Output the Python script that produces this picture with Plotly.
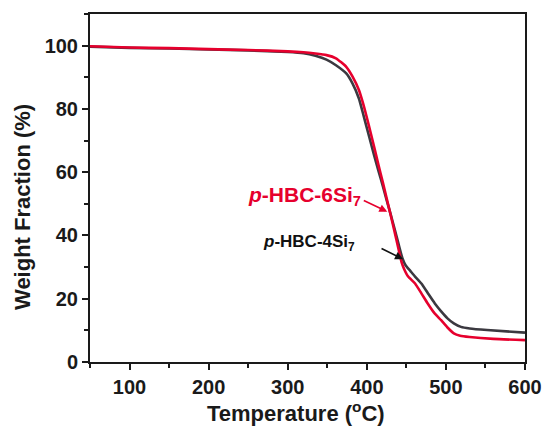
import plotly.graph_objects as go

# TGA curves: temperature (°C) vs. weight fraction (%)
temp_4si7 = [50, 100, 150, 200, 250, 300, 320, 335, 349, 361, 374, 382, 390, 396, 403, 409,
             415, 420, 425, 430, 435, 440, 445, 449, 455, 461, 469, 477, 486, 494, 502, 510,
             519, 530, 552, 600]
wt_4si7 = [99.7, 99.3, 99.1, 98.8, 98.5, 98.0, 97.6, 96.8, 95.6, 93.8, 91.2, 88.0, 83.3, 77.8, 71.2, 65.5,
           60.2, 55.8, 51.2, 46.8, 42.2, 37.4, 32.8, 30.6, 28.8, 27.0, 24.8, 21.8, 18.5, 16.0, 13.8, 12.2,
           11.1, 10.6, 10.1, 9.3]

temp_6si7 = [50, 100, 150, 200, 250, 300, 320, 335, 349, 361, 374, 382, 390, 395, 400, 405,
             410, 415, 420, 425, 430, 435, 440, 444, 447, 452, 461, 469, 477, 485, 494, 502,
             510, 518, 530, 560, 600]
wt_6si7 = [99.8, 99.4, 99.2, 98.9, 98.6, 98.2, 97.9, 97.5, 97.0, 96.0, 93.3, 90.2, 86.0, 82.0, 77.3, 72.3,
           67.2, 62.0, 57.0, 51.8, 46.6, 41.3, 35.8, 31.5, 29.5, 27.1, 24.8, 21.7, 18.5, 15.6, 13.2, 10.9,
           9.05, 8.3, 7.9, 7.3, 6.9]

x_ticks = [100, 200, 300, 400, 500, 600]
y_ticks = [0, 20, 40, 60, 80, 100]

RED = "#e6002d"
DARK = "#3b3940"
AXIS = "#1a1a1a"
FONT = "Liberation Sans"

fig = go.Figure()
fig.add_trace(go.Scatter(x=temp_4si7, y=wt_4si7, mode="lines",
                         line=dict(color=DARK, width=2.6, shape="spline", smoothing=0.5),
                         showlegend=False))
fig.add_trace(go.Scatter(x=temp_6si7, y=wt_6si7, mode="lines",
                         line=dict(color=RED, width=2.6, shape="spline", smoothing=0.5),
                         showlegend=False))

axis_common = dict(
    showline=True, linecolor=AXIS, linewidth=2, mirror=True,
    ticks="outside", ticklen=6, tickwidth=2, tickcolor=AXIS,
    showgrid=False, zeroline=False,
    tickfont=dict(family=FONT, size=20, color=AXIS, weight="bold"),
)

fig.update_xaxes(range=[50, 600], tickvals=x_ticks,
                 minor=dict(dtick=50, tick0=0, ticklen=4, tickwidth=2, tickcolor=AXIS, ticks="outside"),
                 **axis_common)
fig.update_yaxes(range=[0, 110], tickvals=y_ticks,
                 minor=dict(dtick=10, tick0=0, ticklen=4, tickwidth=2, tickcolor=AXIS, ticks="outside"),
                 **axis_common)

annotations = [
    # axis titles
    dict(text="Temperature (<sup>o</sup>C)", xref="x", yref="paper", x=311, y=0,
         yshift=-50, xanchor="center", yanchor="middle", showarrow=False,
         font=dict(family=FONT, size=22, color=AXIS, weight="bold")),
    dict(text="Weight Fraction (%)", xref="paper", yref="y", x=0, y=49,
         xshift=-67, textangle=-90, xanchor="center", yanchor="middle", showarrow=False,
         font=dict(family=FONT, size=22, color=AXIS, weight="bold")),
    # series labels
    dict(text="<i>p</i>-HBC-6Si<sub>7</sub>", xref="x", yref="y", x=321, y=52.5,
         xanchor="center", yanchor="middle", showarrow=False,
         font=dict(family=FONT, size=21, color=RED, weight="bold")),
    dict(text="<i>p</i>-HBC-4Si<sub>7</sub>", xref="x", yref="y", x=327, y=37.5,
         xanchor="center", yanchor="middle", showarrow=False,
         font=dict(family=FONT, size=17, color="#111111", weight="bold")),
    # pointers
    dict(text="", xref="x", yref="y", x=425.9, y=47.5, ax=-25, ay=-12,
         showarrow=True, arrowhead=2, arrowsize=1, arrowwidth=1.6, arrowcolor=RED, standoff=0),
    dict(text="", xref="x", yref="y", x=445.8, y=32.5, ax=-23, ay=-11.5,
         showarrow=True, arrowhead=2, arrowsize=1, arrowwidth=1.6, arrowcolor="#111111", standoff=0),
]

fig.update_layout(
    width=554, height=428,
    margin=dict(l=90, r=22, t=13, b=66),
    paper_bgcolor="white", plot_bgcolor="white",
    annotations=annotations,
)

fig.write_html("out.html")
